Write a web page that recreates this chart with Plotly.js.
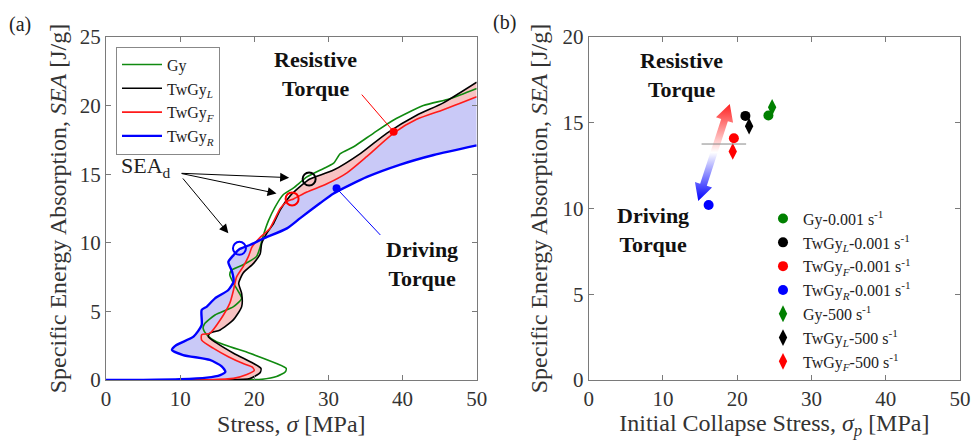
<!DOCTYPE html>
<html>
<head>
<meta charset="utf-8">
<script src="https://cdn.plot.ly/plotly-3.0.1.min.js"></script>
<style>html,body{margin:0;padding:0;background:#fff;}#chart{width:973px;height:440px;}</style>
</head>
<body>
<div id="chart"></div>
<script>
// ---------- Panel (a): SEA vs stress curves ----------
const gyX  = [0, 10, 18, 21.0, 23.0, 24.2, 24.3, 23.0, 19.4, 14.9, 13.6, 13.1, 13.3, 14.7, 17.2, 18.3, 17.8, 17.2, 16.7, 16.9, 18.5, 20.3, 20.8, 21.2, 21.9, 22.8, 23.9, 25.3, 27.1, 29.3, 30.7, 31.6, 33.4, 36.1, 38.8, 42.8, 46.4, 50];
const gyY  = [0, 0, 0.01, 0.05, 0.25, 0.6, 0.85, 1.2, 1.95, 2.79, 3.3, 3.77, 4.1, 4.74, 5.35, 5.95, 6.5, 7.05, 7.65, 8.0, 8.4, 9.0, 9.7, 10.5, 11.6, 12.6, 13.5, 14.0, 14.8, 15.4, 15.8, 16.5, 17.0, 18.0, 18.95, 20.0, 20.5, 21.25];

const twLX = [0, 10, 16, 19.4, 20.8, 20.9, 19.9, 17.2, 14.9, 13.8, 14.0, 15.4, 17.2, 18.3, 18.3, 17.9, 18.5, 19.9, 20.8, 21.0, 21.7, 22.6, 23.5, 24.8, 26.4, 27.5, 30.7, 34.3, 37.9, 41.9, 45.5, 50];
const twLY = [0, 0, 0.02, 0.1, 0.55, 0.85, 1.2, 1.95, 2.7, 3.15, 3.4, 3.65, 4.4, 5.35, 6.3, 7.05, 7.8, 8.5, 9.2, 9.95, 10.7, 11.4, 12.4, 13.4, 14.2, 14.65, 15.3, 16.5, 18.0, 19.3, 20.2, 21.7];

const twFX = [0, 10, 14, 17.2, 19.0, 20.0, 19.7, 18.5, 16.5, 14.5, 12.9, 12.9, 14.0, 15.4, 16.7, 17.2, 17.6, 18.5, 19.2, 19.7, 20.8, 22.1, 23.5, 24.4, 25.3, 27.1, 29.8, 32.5, 35.2, 38.8, 41.9, 45.5, 50];
const twFY = [0, 0, 0.02, 0.12, 0.4, 0.7, 0.95, 1.2, 1.7, 2.3, 2.9, 3.3, 3.4, 4.37, 5.6, 6.56, 7.5, 8.26, 8.99, 9.7, 10.4, 11.05, 12.5, 13.0, 13.2, 13.7, 14.3, 15.1, 16.3, 18.0, 19.0, 19.7, 20.65];

const twRX = [0, 5, 10, 13.6, 15.4, 16.1, 15.6, 14.0, 10.4, 8.9, 9.5, 11.8, 12.9, 12.9, 13.6, 14.7, 16.5, 17.2, 17.0, 16.5, 17.2, 17.9, 19.4, 21.2, 24.4, 26.2, 28.9, 30.7, 35.2, 39.7, 44.2, 50];
const twRY = [0, 0.01, 0.05, 0.17, 0.36, 0.6, 1.0, 1.46, 1.82, 2.19, 2.55, 3.16, 4.0, 5.1, 5.35, 5.95, 6.56, 7.17, 7.9, 8.6, 9.1, 9.5, 9.84, 10.3, 11.05, 11.8, 12.9, 13.6, 14.8, 15.7, 16.4, 17.1];

const seadX = [27.4, 25.1, 18.0];
const seadY = [14.65, 13.2, 9.6];
const seadColors = ['#000000', '#ff0000', '#0000ff'];

// ---------- Panel (b): initial collapse stress vs SEA ----------
const bNames  = ['Gy-0.001 s<sup>-1</sup>', 'TwGy<i><sub>L</sub></i>-0.001 s<sup>-1</sup>', 'TwGy<i><sub>F</sub></i>-0.001 s<sup>-1</sup>', 'TwGy<i><sub>R</sub></i>-0.001 s<sup>-1</sup>', 'Gy-500 s<sup>-1</sup>', 'TwGy<i><sub>L</sub></i>-500 s<sup>-1</sup>', 'TwGy<i><sub>F</sub></i>-500 s<sup>-1</sup>'];
const bStress = [24.2, 21.1, 19.55, 16.15, 24.7, 21.6, 19.4];
const bSEA    = [15.42, 15.4, 14.1, 10.2, 15.9, 14.8, 13.33];
const bSymbol = ['circle', 'circle', 'circle', 'circle', 'diamond-tall', 'diamond-tall', 'diamond-tall'];
const bColor  = ['#008000', '#000000', '#ff0000', '#0000ff', '#008000', '#000000', '#ff0000'];

const meanLineX = [15.2, 21.2];
const meanLineY = 13.76;
const arrowTop = [19.0, 16.1];
const arrowBottom = [14.75, 10.44];

// ---------- layout constants ----------
const W = 973, H = 440, MT = 37, MB = 60;
const domA = [106 / W, 476.7 / W];
const domB = [588.7 / W, 960 / W];
const FONT = 'Liberation Serif';
const plotH = H - MT - MB;

const traces = [];
// fills: red<->blue (lavender), black<->red (pink)
traces.push({x: twFX.concat(twRX.slice().reverse()), y: twFY.concat(twRY.slice().reverse()),
  type: 'scatter', mode: 'none', fill: 'toself', fillcolor: '#c9c9f7', showlegend: false, hoverinfo: 'skip', xaxis: 'x', yaxis: 'y'});
traces.push({x: twLX.concat(twFX.slice().reverse()), y: twLY.concat(twFY.slice().reverse()),
  type: 'scatter', mode: 'none', fill: 'toself', fillcolor: '#f8c3c3', showlegend: false, hoverinfo: 'skip', xaxis: 'x', yaxis: 'y'});

const curves = [
  {x: gyX, y: gyY, name: 'Gy', color: '#108a10', w: 1.6},
  {x: twLX, y: twLY, name: 'TwGy<i><sub>L</sub></i>', color: '#000000', w: 1.6},
  {x: twFX, y: twFY, name: 'TwGy<i><sub>F</sub></i>', color: '#ff1a1a', w: 1.6},
  {x: twRX, y: twRY, name: 'TwGy<i><sub>R</sub></i>', color: '#0000ff', w: 2.4}
];
curves.forEach(c => traces.push({x: c.x, y: c.y, name: c.name, type: 'scatter', mode: 'lines',
  line: {color: c.color, width: c.w, shape: 'spline', smoothing: 0.6}, xaxis: 'x', yaxis: 'y', legend: 'legend'}));

traces.push({x: seadX, y: seadY, type: 'scatter', mode: 'markers', showlegend: false,
  marker: {symbol: 'circle-open', size: 13, color: seadColors, line: {width: 2, color: seadColors}}, xaxis: 'x', yaxis: 'y'});

// pointer dots for torque labels
const dotX = [38.8, 31.1], dotY = [18.1, 13.97];
traces.push({x: dotX, y: dotY, type: 'scatter', mode: 'markers', showlegend: false,
  marker: {size: 8, color: ['#ff0000', '#0000ff']}, xaxis: 'x', yaxis: 'y'});

// gradient double arrow in panel (b)
(function () {
  const sx = (domB[1] - domB[0]) * W / 50, sy = plotH / 20;
  const T = [arrowTop[0] * sx, -arrowTop[1] * sy], B = [arrowBottom[0] * sx, -arrowBottom[1] * sy];
  const dx = T[0] - B[0], dy = T[1] - B[1], len = Math.hypot(dx, dy);
  const u = [dx / len, dy / len], n = [-u[1], u[0]];
  const hw = 9, sw = 3.5, hl = 17;
  const P = (base, a, b) => [base[0] + a * u[0] + b * n[0], base[1] + a * u[1] + b * n[1]];
  const pts = [T, P(T, -hl, hw), P(T, -hl, sw), P(B, hl, sw), P(B, hl, hw), B, P(B, hl, -hw), P(B, hl, -sw), P(T, -hl, -sw), P(T, -hl, -hw), T];
  traces.push({x: pts.map(p => p[0] / sx), y: pts.map(p => -p[1] / sy), type: 'scatter', mode: 'lines',
    line: {width: 0}, fill: 'toself', fillgradient: {type: 'vertical', colorscale: [[0, '#0000ff'], [0.5, '#ffffff'], [1, '#ff2020']]},
    showlegend: false, hoverinfo: 'skip', xaxis: 'x2', yaxis: 'y2'});
})();

for (let i = 0; i < bNames.length; i++) {
  traces.push({x: [bStress[i]], y: [bSEA[i]], name: bNames[i], type: 'scatter', mode: 'markers',
    marker: {symbol: bSymbol[i], size: bSymbol[i] === 'circle' ? 10 : 12, color: bColor[i]},
    xaxis: 'x2', yaxis: 'y2', legend: 'legend2'});
}

const axBase = {showgrid: false, zeroline: false, showline: true, mirror: 'ticks', linecolor: '#7a7a7a', linewidth: 1,
  ticks: 'inside', ticklen: 5, tickcolor: '#7a7a7a', tickfont: {family: FONT, size: 21, color: '#333'}, automargin: false};

const tf = {family: FONT, size: 24, color: '#333'};
const boldF = {family: FONT, size: 22, color: '#111', weight: 'bold'};

const layout = {
  width: W, height: H, margin: {l: 0, r: 0, t: MT, b: MB}, paper_bgcolor: '#fff', plot_bgcolor: '#fff',
  font: {family: FONT},
  xaxis: Object.assign({}, axBase, {domain: domA, range: [0, 50], tickvals: [0, 10, 20, 30, 40, 50],
    title: {text: 'Stress, <i>σ</i> [MPa]', font: tf, standoff: 3}}),
  yaxis: Object.assign({}, axBase, {domain: [0, 1], range: [0, 25], tickvals: [0, 5, 10, 15, 20, 25],
    title: {text: 'Specific Energy Absorption, <i>SEA</i> [J/g]', font: tf, standoff: 6}}),
  xaxis2: Object.assign({}, axBase, {anchor: 'y2', domain: domB, range: [0, 50], tickvals: [0, 10, 20, 30, 40, 50],
    title: {text: 'Initial Collapse Stress, <i>σ<sub>p</sub></i> [MPa]', font: tf, standoff: 3}}),
  yaxis2: Object.assign({}, axBase, {anchor: 'x2', domain: [0, 1], range: [0, 20], tickvals: [0, 5, 10, 15, 20],
    title: {text: 'Specific Energy Absorption, <i>SEA</i> [J/g]', font: tf, standoff: 8}}),
  legend: {x: 116 / W, y: 0.972, xanchor: 'left', yanchor: 'top', bgcolor: '#fff', bordercolor: '#888', borderwidth: 1,
    font: {family: FONT, size: 16, color: '#222'}, itemwidth: 40, tracegroupgap: 0},
  legend2: {x: 763 / W, y: 0.52, xanchor: 'left', yanchor: 'top', bgcolor: 'rgba(0,0,0,0)', borderwidth: 0,
    font: {family: FONT, size: 16, color: '#222'}, itemwidth: 30},
  shapes: [
    {type: 'line', xref: 'x', yref: 'y', x0: 34.5, y0: 20.8, x1: dotX[0], y1: dotY[0], line: {color: '#ff0000', width: 1}},
    {type: 'line', xref: 'x', yref: 'y', x0: dotX[1], y0: dotY[1], x1: 37.0, y1: 10.57, line: {color: '#0000ff', width: 1}},
    {type: 'line', xref: 'x2', yref: 'y2', x0: meanLineX[0], y0: meanLineY, x1: meanLineX[1], y1: meanLineY, line: {color: '#888', width: 1}}
  ],
  annotations: [
    {xref: 'paper', yref: 'paper', x: 20 / W, y: (380 - 24) / plotH, xanchor: 'center', yanchor: 'middle', text: '(a)', showarrow: false, font: {family: FONT, size: 20, color: '#222'}},
    {xref: 'paper', yref: 'paper', x: 505 / W, y: (380 - 22) / plotH, xanchor: 'center', yanchor: 'middle', text: '(b)', showarrow: false, font: {family: FONT, size: 20, color: '#222'}},
    {xref: 'x', yref: 'y', x: 28.2, y: 22.3, text: 'Resistive<br>Torque', showarrow: false, font: boldF, align: 'center'},
    {xref: 'x', yref: 'y', x: 42.6, y: 8.45, text: 'Driving<br>Torque', showarrow: false, font: boldF, align: 'center'},
    {xref: 'x', yref: 'y', x: 5.4, y: 15.5, text: 'SEA<sub>d</sub>', showarrow: false, font: {family: FONT, size: 22, color: '#222'}},
    {xref: 'x', yref: 'y', axref: 'x', ayref: 'y', x: 24.7, y: 14.75, ax: 10.0, ay: 15.07, text: '', showarrow: true, arrowhead: 2, arrowsize: 1.8, arrowwidth: 1, arrowcolor: '#000'},
    {xref: 'x', yref: 'y', axref: 'x', ayref: 'y', x: 23.0, y: 13.6, ax: 10.0, ay: 15.07, text: '', showarrow: true, arrowhead: 2, arrowsize: 1.8, arrowwidth: 1, arrowcolor: '#000'},
    {xref: 'x', yref: 'y', axref: 'x', ayref: 'y', x: 16.5, y: 10.7, ax: 10.2, ay: 14.8, text: '', showarrow: true, arrowhead: 2, arrowsize: 1.8, arrowwidth: 1, arrowcolor: '#000'},
    {xref: 'x2', yref: 'y2', x: 12.5, y: 17.8, text: 'Resistive<br>Torque', showarrow: false, font: boldF, align: 'center'},
    {xref: 'x2', yref: 'y2', x: 8.65, y: 8.75, text: 'Driving<br>Torque', showarrow: false, font: boldF, align: 'center'}
  ]
};

Plotly.newPlot('chart', traces, layout, {staticPlot: true, displayModeBar: false});
</script>
</body>
</html>
